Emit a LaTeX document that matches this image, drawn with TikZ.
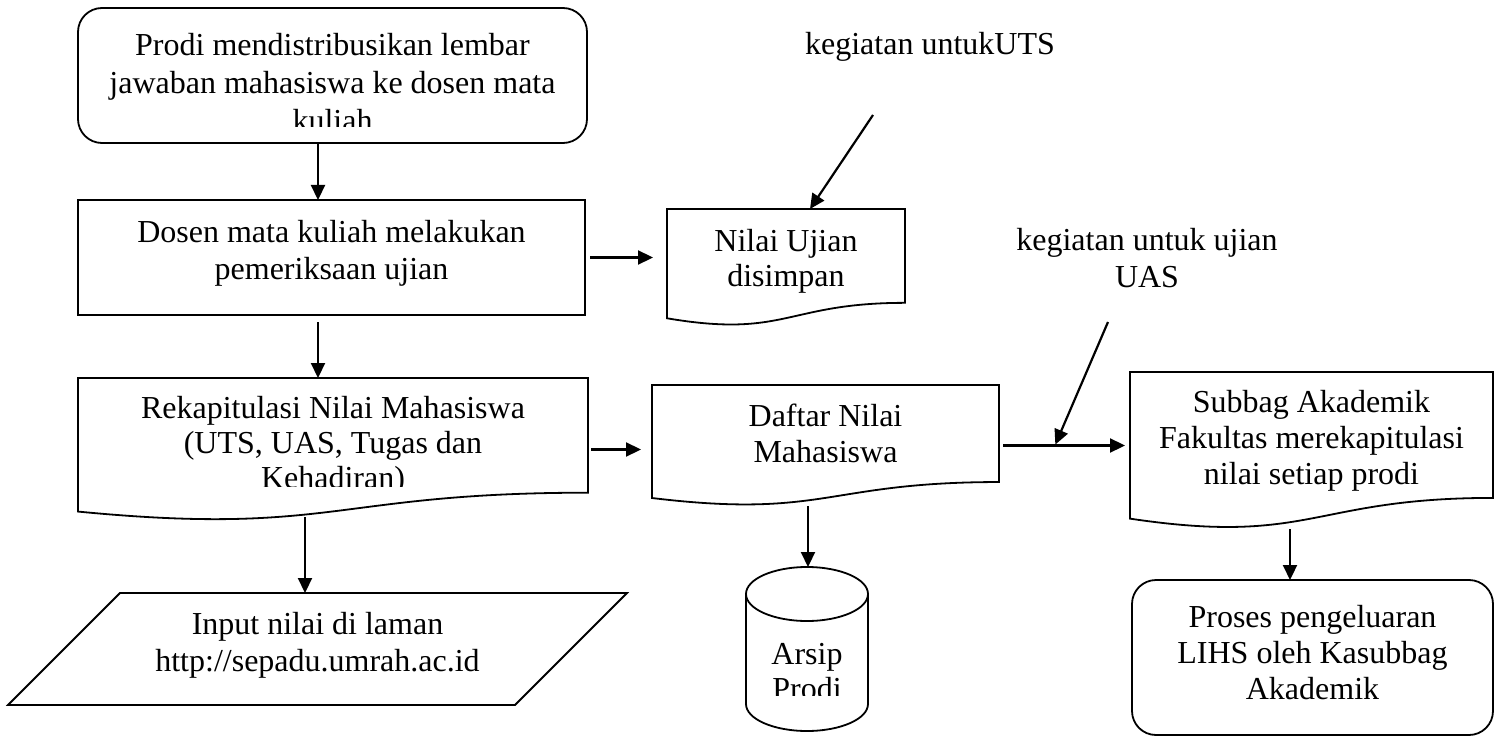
\documentclass[tikz,border=0pt]{standalone}
\usepackage{fontspec}
\setmainfont{Liberation Serif}
\usetikzlibrary{arrows.meta,calc}

% outline of a flowchart "document" symbol drawn on an invisible anchor box
\newcommand\docoutline[1]{%
  \draw[shapeline] (#1.north west) -- (#1.north east)
    -- ($(#1.north east)!0.802!(#1.south east)$)
    .. controls ($(#1.north)!0.802!(#1.south)$) and ($(#1.north)!1.107!(#1.south)$)
    .. ($(#1.north west)!0.934!(#1.south west)$) -- cycle;}

\begin{document}
\begin{tikzpicture}[x=1pt,y=-1pt,
  shapeline/.style={draw=black, line width=1.8pt},
  anchorbox/.style={rectangle, inner sep=0pt, outer sep=0pt},
  procbox/.style={anchorbox, shapeline},
  roundbox/.style={anchorbox, shapeline, rounded corners=24pt},
  txt/.style={font=\fontsize{32pt}{#1}\selectfont, align=center, inner sep=0pt, anchor=base},
  txt/.default=36pt,
  arr/.style={line width=2.2pt, -{Triangle[length=15pt,width=14pt]}},
]
\useasboundingbox (0,0) rectangle (1499,738);
\fill[white] (0,0) rectangle (1499,738);

% ---------- shapes ----------
\node[roundbox, minimum width=509pt, minimum height=135pt] (prodi) at (332.5,75.5) {};
\node[procbox, minimum width=507pt, minimum height=115pt] (dosen) at (331.5,257.5) {};
\node[anchorbox, minimum width=238pt, minimum height=117pt] (nilai) at (786,267.5) {};
\node[anchorbox, minimum width=510pt, minimum height=143pt] (rekap) at (333,449.5) {};
\node[anchorbox, minimum width=347pt, minimum height=121pt] (daftar) at (825.5,445.5) {};
\node[anchorbox, minimum width=363pt, minimum height=157pt] (subbag) at (1311.5,450.5) {};
\node[roundbox, minimum width=361pt, minimum height=155pt] (proses) at (1312.5,657.5) {};
\node[anchorbox, minimum width=619pt, minimum height=112pt] (input) at (317.5,649) {};
\node[anchorbox, minimum width=122pt, minimum height=164pt] (arsip) at (807,649) {};

\docoutline{nilai}
\docoutline{rekap}
\docoutline{daftar}
\docoutline{subbag}

% data (parallelogram)
\draw[shapeline] ([xshift=112pt]input.north west) -- (input.north east)
  -- ([xshift=-112pt]input.south east) -- (input.south west) -- cycle;

% storage (cylinder)
\draw[shapeline] ([yshift=-27pt]arsip.north) ellipse [x radius=61pt, y radius=27pt];
\draw[shapeline] ([yshift=-27pt]arsip.north west) -- ([yshift=27pt]arsip.south west)
  arc[start angle=180, end angle=360, x radius=61pt, y radius=27pt]
  -- ([yshift=-27pt]arsip.north east);

% ---------- texts (anchored at the baseline of the last line) ----------
\begin{scope}
  \clip (70,0) rectangle (600,127);
  \node[txt=38pt] (prodi-t) at (332.5,131.5) {Prodi mendistribusikan lembar\\jawaban mahasiswa ke dosen mata\\kuliah};
\end{scope}
\node[txt=36pt] (dosen-t) at (331.5,279) {Dosen mata kuliah melakukan\\pemeriksaan ujian};
\node[txt=35pt] (nilai-t) at (786,286) {Nilai Ujian\\disimpan};
\begin{scope}
  \clip (70,370) rectangle (600,486);
  \node[txt=35pt] (rekap-t) at (333,488) {Rekapitulasi Nilai Mahasiswa\\(UTS, UAS, Tugas dan\\Kehadiran)};
\end{scope}
\node[txt=36pt] (daftar-t) at (825.5,462.5) {Daftar Nilai\\Mahasiswa};
\node[txt=36pt] (subbag-t) at (1311.5,484) {Subbag Akademik\\Fakultas merekapitulasi\\nilai setiap prodi};
\node[txt=36pt] (proses-t) at (1312.5,699) {Proses pengeluaran\\LIHS oleh Kasubbag\\Akademik};
\node[txt=36.5pt] (input-t) at (317.5,671) {Input nilai di laman\\http://sepadu.umrah.ac.id};
\begin{scope}
  \clip (740,600) rectangle (875,695);
  \node[txt=35pt] (arsip-t) at (807,699) {Arsip\\Prodi};
\end{scope}
\node[txt] (uts) at (930,55) {kegiatan untukUTS};
\node[txt=36pt] (uas) at (1147,287) {kegiatan untuk ujian\\UAS};

% ---------- connectors ----------
\draw[arr] ([xshift=-14.5pt]prodi.south) -- ([xshift=-14.5pt]prodi.south |- dosen.north);
\draw[arr, shorten <=5pt, shorten >=14pt] (dosen.east) -- (dosen.east -| nilai.west);
\coordinate (utsfrom) at (873,115);
\draw[arr] (utsfrom) -- ([xshift=24pt]nilai.north);
\draw[arr, shorten <=7pt] ([xshift=-13.5pt]dosen.south) -- ([xshift=-13.5pt]dosen.south |- rekap.north);
\draw[arr, shorten <=3pt, shorten >=11pt] (rekap.east) -- (rekap.east -| daftar.west);
\draw[arr, shorten <=4pt, shorten >=5pt] (daftar.east) -- (daftar.east -| subbag.west)
  coordinate[pos=0.427] (uashit);
\coordinate (uasfrom) at (1108,322);
\draw[arr, shorten >=1pt] (uasfrom) -- (uashit);
\draw[arr, shorten <=-4pt] ([xshift=-28pt]rekap.south) -- ([xshift=-28pt]rekap.south |- input.north);
\draw[arr] ([xshift=-17.5pt]daftar.south) -- ([xshift=-17.5pt]daftar.south |- arsip.north);
\draw[arr] ([xshift=-21.5pt]subbag.south) -- ([xshift=-21.5pt]subbag.south |- proses.north);
\end{tikzpicture}
\end{document}
